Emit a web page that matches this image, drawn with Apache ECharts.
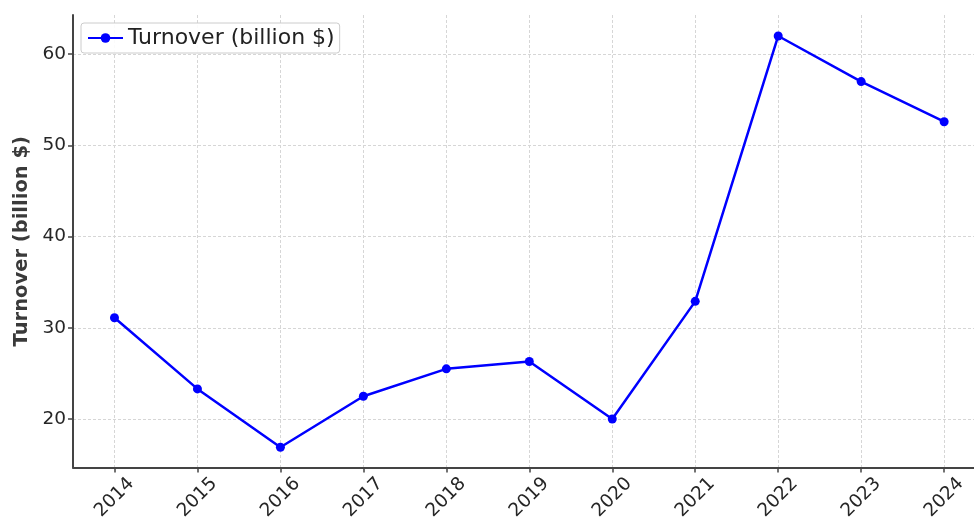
<!DOCTYPE html>
<html>
<head>
<meta charset="utf-8">
<script src="https://cdn.jsdelivr.net/npm/echarts@6/dist/echarts.min.js"></script>
<style>
html,body{margin:0;padding:0;background:#fff;}
#chart{width:974px;height:523px;}
</style>
</head>
<body>
<div id="chart"></div>
<script>
const years = [2014, 2015, 2016, 2017, 2018, 2019, 2020, 2021, 2022, 2023, 2024];
const turnover = [31.1, 23.3, 16.9, 22.5, 25.5, 26.3, 20.0, 32.9, 62.0, 57.0, 52.6];
const yTicks = [20, 30, 40, 50, 60];
const seriesName = 'Turnover (billion $)';
const yAxisName = 'Turnover (billion $)';

const chart = echarts.init(document.getElementById('chart'), null, {renderer: 'canvas'});
const font = 'DejaVu Sans';
const gridLine = {show: true, lineStyle: {color: '#d6d6d6', width: 1, type: [3, 2]}};

chart.setOption({
  animation: false,
  backgroundColor: '#fff',
  grid: {left: 73, right: 0, top: 15, bottom: 54, containLabel: false},
  legend: {
    show: true,
    left: 81, top: 23,
    padding: [4, 5, 4, 6],
    itemWidth: 35, itemHeight: 12,
    borderColor: '#cccccc', borderWidth: 1, borderRadius: 3,
    backgroundColor: 'rgba(255,255,255,0.9)',
    textStyle: {fontFamily: font, fontSize: 22, color: '#222'},
    data: [seriesName]
  },
  xAxis: {
    type: 'value',
    min: 2013.5, max: 2024.36,
    axisLine: {show: true, lineStyle: {color: '#444', width: 2}},
    axisTick: {show: true, length: 5, lineStyle: {color: '#444', width: 1.5}, customValues: years},
    axisLabel: {
      customValues: years,
      rotate: 45, align: 'center', verticalAlign: 'middle', margin: 30,
      fontFamily: font, fontSize: 18.5, color: '#262626',
      formatter: v => String(v)
    },
    splitLine: gridLine
  },
  yAxis: {
    type: 'value',
    min: 14.68, max: 64.3,
    name: yAxisName,
    nameLocation: 'middle',
    nameGap: 40,
    nameTextStyle: {fontFamily: font, fontSize: 19.5, fontWeight: 'bold', color: '#3a3a3a'},
    axisLine: {show: true, lineStyle: {color: '#444', width: 2}},
    axisTick: {show: true, length: 5, lineStyle: {color: '#444', width: 1.5}, customValues: yTicks},
    axisLabel: {
      customValues: yTicks, margin: 7,
      fontFamily: font, fontSize: 18.5, color: '#262626'
    },
    splitLine: gridLine
  },
  series: [{
    name: seriesName,
    type: 'line',
    data: years.map((y, i) => [y, turnover[i]]),
    symbol: 'circle', symbolSize: 9,
    itemStyle: {color: '#0000ff'},
    lineStyle: {color: '#0000ff', width: 2.5}
  }]
});
</script>
</body>
</html>
